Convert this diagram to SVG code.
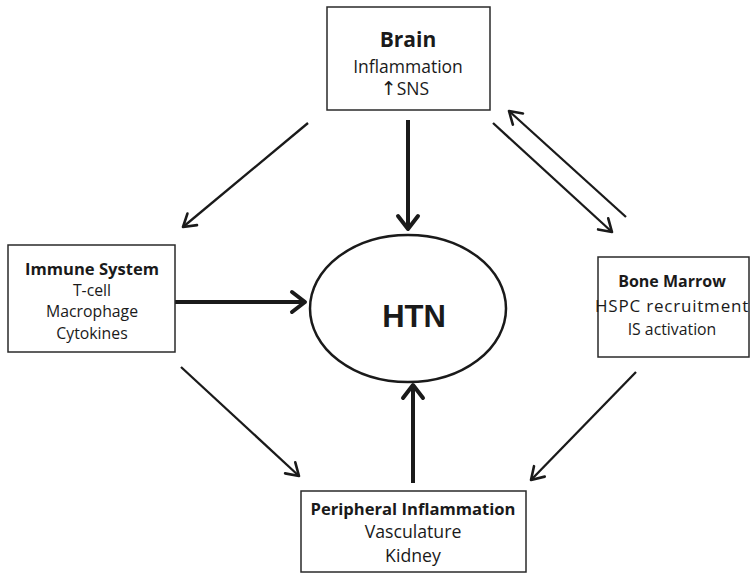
<svg xmlns="http://www.w3.org/2000/svg" width="751" height="574" viewBox="0 0 751 574">
<style>
.box{fill:#fff;stroke:#2a2a2a;stroke-width:1.5}
.t{font-family:"Open Sans","Liberation Sans",sans-serif;fill:#1a1a1a;text-anchor:middle}
.b{font-weight:bold;font-size:16.6px}
.r{font-size:15.8px}
.thin{stroke:#1a1a1a;stroke-width:2.3;fill:none;marker-end:url(#ah)}
.thick{stroke:#1a1a1a;stroke-width:4;fill:none;marker-end:url(#ahk)}
</style>
<defs>
<marker id="ah" markerUnits="userSpaceOnUse" markerWidth="30" markerHeight="30" refX="0" refY="0" viewBox="-15 -15 30 30" orient="auto" overflow="visible">
<path d="M-12,-7.5 L0,0 L-12,7.5" fill="none" stroke="#1a1a1a" stroke-width="2.6" stroke-linecap="round" stroke-linejoin="round"/>
</marker>
<marker id="ahk" markerUnits="userSpaceOnUse" markerWidth="30" markerHeight="30" refX="0" refY="0" viewBox="-15 -15 30 30" orient="auto" overflow="visible">
<path d="M-13,-10 L0,0 L-13,10" fill="none" stroke="#1a1a1a" stroke-width="4" stroke-linecap="round" stroke-linejoin="round"/>
</marker>
</defs>
<rect width="751" height="574" fill="#fff"/>
<g id="connectors">
<line class="thin" x1="308" y1="123" x2="183" y2="227"/>
<line class="thick" x1="408" y1="120" x2="408" y2="229"/>
<line class="thin" x1="493" y1="123" x2="612" y2="232"/>
<line class="thin" x1="626" y1="217" x2="509" y2="111"/>
<line class="thick" x1="175" y1="302" x2="305" y2="302"/>
<line class="thin" x1="181" y1="367" x2="299" y2="476"/>
<line class="thin" x1="636" y1="372" x2="531" y2="480"/>
<line class="thick" x1="413" y1="483" x2="413" y2="385"/>
</g>
<g id="brain">
<rect class="box" x="327" y="7" width="163" height="103"/>
<text class="t b" x="408" y="47" style="font-size:21px">Brain</text>
<text class="t r" x="408" y="73" style="font-size:17.5px">Inflammation</text>
<text class="t r" x="405" y="95" style="font-size:17.5px"><tspan style="font-family:'DejaVu Sans',sans-serif;font-size:19px">↑</tspan>SNS</text>
</g>
<g id="immune">
<rect class="box" x="8" y="245" width="167" height="107"/>
<text class="t b" x="92" y="275">Immune System</text>
<text class="t r" x="92" y="296">T-cell</text>
<text class="t r" x="92" y="317">Macrophage</text>
<text class="t r" x="92" y="339">Cytokines</text>
</g>
<g id="htn">
<ellipse cx="408" cy="308.5" rx="98" ry="73.5" fill="#fff" stroke="#1a1a1a" stroke-width="2.5"/>
<text x="414" y="327" font-family="'Liberation Sans',Arial,sans-serif" font-weight="bold" font-size="31" fill="#1a1a1a" text-anchor="middle">HTN</text>
</g>
<g id="bone">
<rect class="box" x="598" y="257" width="151" height="100"/>
<text class="t b" x="672" y="287" style="font-size:16px">Bone Marrow</text>
<text class="t r" x="672" y="312" style="font-size:17px;letter-spacing:0.8px">HSPC recruitment</text>
<text class="t r" x="672" y="335" style="font-size:15.8px">IS activation</text>
</g>
<g id="peripheral">
<rect class="box" x="301" y="491" width="225" height="81"/>
<text class="t b" x="413" y="515">Peripheral Inflammation</text>
<text class="t r" x="413" y="538" style="font-size:17.7px">Vasculature</text>
<text class="t r" x="413" y="562" style="font-size:17.7px">Kidney</text>
</g>
</svg>
